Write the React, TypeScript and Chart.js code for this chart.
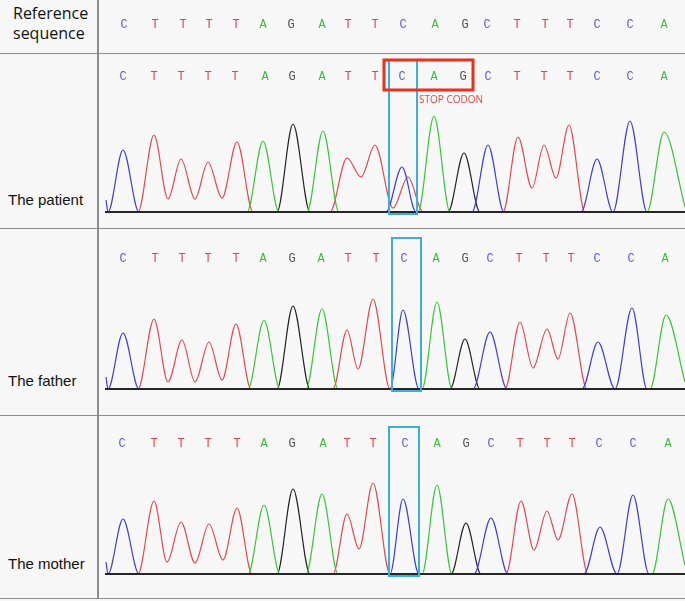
import React, { useEffect, useRef } from "react";
import { Chart, registerables } from "chart.js";
Chart.register(...registerables);

// Base sequence (same 20 calls in every row)
const SEQUENCE = ["C", "T", "T", "T", "T", "A", "G", "A", "T", "T", "C", "A", "G", "C", "T", "T", "T", "C", "C", "A"];

// Base-call positions (scan units) for each row
const refCalls = [26, 57, 85, 111, 138, 165, 193, 224, 250, 277, 305, 337, 367, 389, 419, 447, 472, 499, 532, 566];
const patientCalls = [25, 56, 83, 110, 137, 167, 194, 224, 250, 277, 304, 336, 365, 390, 419, 446, 472, 499, 532, 566];
const fatherCalls = [25, 57, 84, 110, 138, 165, 194, 223, 250, 278, 306, 338, 367, 392, 421, 448, 473, 499, 533, 567];
const motherCalls = [24, 56, 83, 110, 139, 166, 194, 225, 249, 275, 307, 339, 368, 393, 422, 449, 474, 501, 535, 570];

// Trace points [scan, signal] – peaks and valleys
const patientA = [[8, 0], [149, 0], [165, 71], [181, 0], [209, 0], [225, 81], [241, 0], [320, 0], [336, 96], [352, 0], [549, 0], [566, 80], [587, 5]];
const patientC = [[8, 12], [10, 0], [25, 62], [41, 0], [288, 0], [304, 45], [318, 0], [374, 0], [390, 67], [406, 0], [483, 0], [499, 53], [515, 0], [532, 91], [549, 0], [587, 0]];
const patientG = [[8, 0], [179, 0], [195, 88], [212, 0], [350, 0], [366, 59], [382, 0], [587, 0]];
const patientT = [[8, 0], [40, 0], [56, 77], [70, 13], [83, 53], [97, 13], [110, 50], [124, 14], [139, 70], [155, 0], [232, 0], [249, 54], [263, 35], [277, 67], [295, 4], [310, 35], [325, 0], [405, 0], [420, 75], [434, 24], [446, 67], [458, 34], [471, 87], [487, 0], [587, 0]];

const fatherA = [[8, 0], [150, 0], [166, 69], [182, 0], [208, 0], [224, 80], [240, 0], [324, 0], [339, 87], [354, 0], [552, 0], [568, 74], [587, 7]];
const fatherC = [[8, 12], [10, 0], [25, 56], [41, 0], [292, 0], [305, 79], [321, 0], [375, 0], [392, 57], [409, 0], [484, 0], [500, 47], [517, 0], [534, 81], [549, 0], [587, 0]];
const fatherG = [[8, 0], [179, 0], [195, 83], [212, 0], [352, 0], [367, 50], [382, 0], [587, 0]];
const fatherT = [[8, 0], [40, 0], [56, 70], [70, 7], [84, 49], [97, 7], [111, 47], [124, 9], [138, 65], [153, 0], [235, 0], [249, 59], [260, 20], [275, 90], [292, 0], [407, 0], [422, 67], [435, 21], [449, 60], [460, 30], [472, 76], [489, 0], [587, 0]];

const motherA = [[8, 0], [150, 0], [166, 69], [182, 0], [208, 0], [224, 80], [240, 0], [324, 0], [339, 89], [354, 0], [554, 0], [570, 75], [587, 9]];
const motherC = [[8, 12], [10, 0], [25, 55], [41, 0], [292, 0], [305, 75], [321, 0], [376, 0], [393, 56], [410, 0], [486, 0], [502, 47], [519, 0], [535, 79], [551, 0], [587, 0]];
const motherG = [[8, 0], [179, 0], [195, 85], [212, 0], [353, 0], [368, 51], [383, 0], [587, 0]];
const motherT = [[8, 0], [40, 0], [56, 73], [69, 12], [83, 52], [97, 11], [111, 50], [125, 14], [139, 66], [154, 0], [235, 0], [249, 60], [261, 25], [275, 91], [292, 0], [408, 0], [423, 73], [436, 24], [449, 63], [460, 34], [474, 80], [490, 0], [587, 0]];

const baselinePts = [[7, 0], [587, 0]];

const LETTER_COLORS: Record<string, string> = { A: "#3cbf3c", C: "#5a5ae6", G: "#505050", T: "#e8404a" };
const TRACE_COLORS: Record<string, string> = { A: "#34c834", C: "#3c3cdc", G: "#222222", T: "#e8464f" };

type PanelCfg = {
  calls: number[];
  traces?: Record<string, number[][]>;
  yMin: number;
  yMax: number;
  letterY: number;
  box?: [number, number, number];
  codon?: [number, number, number, number];
  codonLabel?: string;
};

function Panel({ cfg, top, height }: { cfg: PanelCfg; top: number; height: number }) {
  const ref = useRef<HTMLCanvasElement>(null);
  useEffect(() => {
    if (!ref.current) return;
    const toXY = (arr: number[][]) => arr.map(([x, y]) => ({ x, y }));
    const datasets: any[] = [];
    if (cfg.traces) {
      datasets.push({
        data: toXY(baselinePts),
        borderColor: "#262626",
        borderWidth: 1.8,
        pointRadius: 0,
      });
      ["A", "C", "G", "T"].forEach((b) => {
        datasets.push({
          data: toXY(cfg.traces![b]),
          borderColor: TRACE_COLORS[b],
          borderWidth: 1.2,
          pointRadius: 0,
          cubicInterpolationMode: "monotone",
          tension: 0.4,
        });
      });
    }
    const annot = {
      id: "annot",
      afterDatasetsDraw(chart: any) {
        const ctx = chart.ctx;
        const xs = chart.scales.x;
        const ys = chart.scales.y;
        ctx.save();
        ctx.font = '12px "Liberation Mono"';
        ctx.textAlign = "center";
        ctx.textBaseline = "middle";
        cfg.calls.forEach((p, i) => {
          ctx.fillStyle = LETTER_COLORS[SEQUENCE[i]];
          ctx.fillText(SEQUENCE[i], xs.getPixelForValue(p), cfg.letterY);
        });
        if (cfg.box) {
          const [a, b, t] = cfg.box;
          const x1 = xs.getPixelForValue(a);
          const x2 = xs.getPixelForValue(b);
          const y2 = ys.getPixelForValue(0) + 2;
          ctx.strokeStyle = "#3aaee0";
          ctx.lineWidth = 2;
          ctx.strokeRect(x1, t, x2 - x1, y2 - t);
        }
        if (cfg.codon) {
          const [a, b, t, bt] = cfg.codon;
          const x1 = xs.getPixelForValue(a);
          const x2 = xs.getPixelForValue(b);
          ctx.strokeStyle = "#e8301c";
          ctx.lineWidth = 3;
          ctx.strokeRect(x1, t, x2 - x1, bt - t);
          ctx.fillStyle = "#ee4444";
          ctx.font = '10px "Open Sans"';
          ctx.textAlign = "left";
          ctx.fillText(cfg.codonLabel || "", x1 + 35, bt + 10);
        }
        ctx.restore();
      },
    };
    const chart = new Chart(ref.current, {
      type: "line",
      data: { datasets },
      options: {
        animation: false,
        responsive: false,
        events: [],
        layout: { padding: 0, autoPadding: false } as any,
        plugins: { legend: { display: false }, tooltip: { enabled: false } },
        scales: {
          x: { type: "linear", min: 0, max: 587, display: false },
          y: { min: cfg.yMin, max: cfg.yMax, display: false },
        },
      },
      plugins: [annot],
    });
    return () => chart.destroy();
  }, []);
  return (
    <canvas
      ref={ref}
      width={587}
      height={height}
      style={{ position: "absolute", left: 98, top, width: 587, height }}
    />
  );
}

const refCfg: PanelCfg = { calls: refCalls, yMin: 0, yMax: 1, letterY: 25 };
const patientCfg: PanelCfg = {
  calls: patientCalls,
  traces: { A: patientA, C: patientC, G: patientG, T: patientT },
  yMin: -15,
  yMax: 158,
  letterY: 23,
  box: [291, 319, 6],
  codon: [286, 375, 6, 36],
  codonLabel: "STOP CODON",
};
const fatherCfg: PanelCfg = {
  calls: fatherCalls,
  traces: { A: fatherA, C: fatherC, G: fatherG, T: fatherT },
  yMin: -25,
  yMax: 160,
  letterY: 30,
  box: [294, 323, 9],
};
const motherCfg: PanelCfg = {
  calls: motherCalls,
  traces: { A: motherA, C: motherC, G: motherG, T: motherT },
  yMin: -24,
  yMax: 158,
  letterY: 28,
  box: [291, 321, 11],
};

const lineColor = "#8c8c8c";

export default function App() {
  useEffect(() => {
    document.body.style.margin = "0";
    document.body.style.background = "#f7f7f7";
  }, []);
  const label = (text: React.ReactNode, top: number, extra: any = {}) => (
    <div
      style={{
        position: "absolute",
        left: 8,
        top,
        fontFamily: '"Liberation Sans", Arial, sans-serif',
        fontSize: 15,
        lineHeight: "18px",
        color: "#111",
        whiteSpace: "nowrap",
        ...extra,
      }}
    >
      {text}
    </div>
  );
  return (
    <div style={{ position: "absolute", left: 0, top: 0, width: 685, height: 601, background: "#f7f7f7", overflow: "hidden" }}>
      {/* table lines */}
      <div style={{ position: "absolute", left: 97, top: 0, width: 1.5, height: 599, background: lineColor }} />
      <div style={{ position: "absolute", left: 0, top: 52.5, width: 685, height: 1.5, background: lineColor }} />
      <div style={{ position: "absolute", left: 0, top: 227.5, width: 685, height: 1.5, background: lineColor }} />
      <div style={{ position: "absolute", left: 0, top: 414.5, width: 685, height: 1.5, background: lineColor }} />
      <div style={{ position: "absolute", left: 0, top: 597.5, width: 685, height: 1.5, background: lineColor }} />
      {label(<>Reference<br />sequence</>, 3, { left: 13, fontFamily: '"Open Sans", sans-serif', fontSize: 16, lineHeight: "20px" })}
      {label("The patient", 191)}
      {label("The father", 372)}
      {label("The mother", 555)}
      <Panel cfg={refCfg} top={0} height={52} />
      <Panel cfg={patientCfg} top={54} height={173} />
      <Panel cfg={fatherCfg} top={229} height={185} />
      <Panel cfg={motherCfg} top={416} height={182} />
    </div>
  );
}
